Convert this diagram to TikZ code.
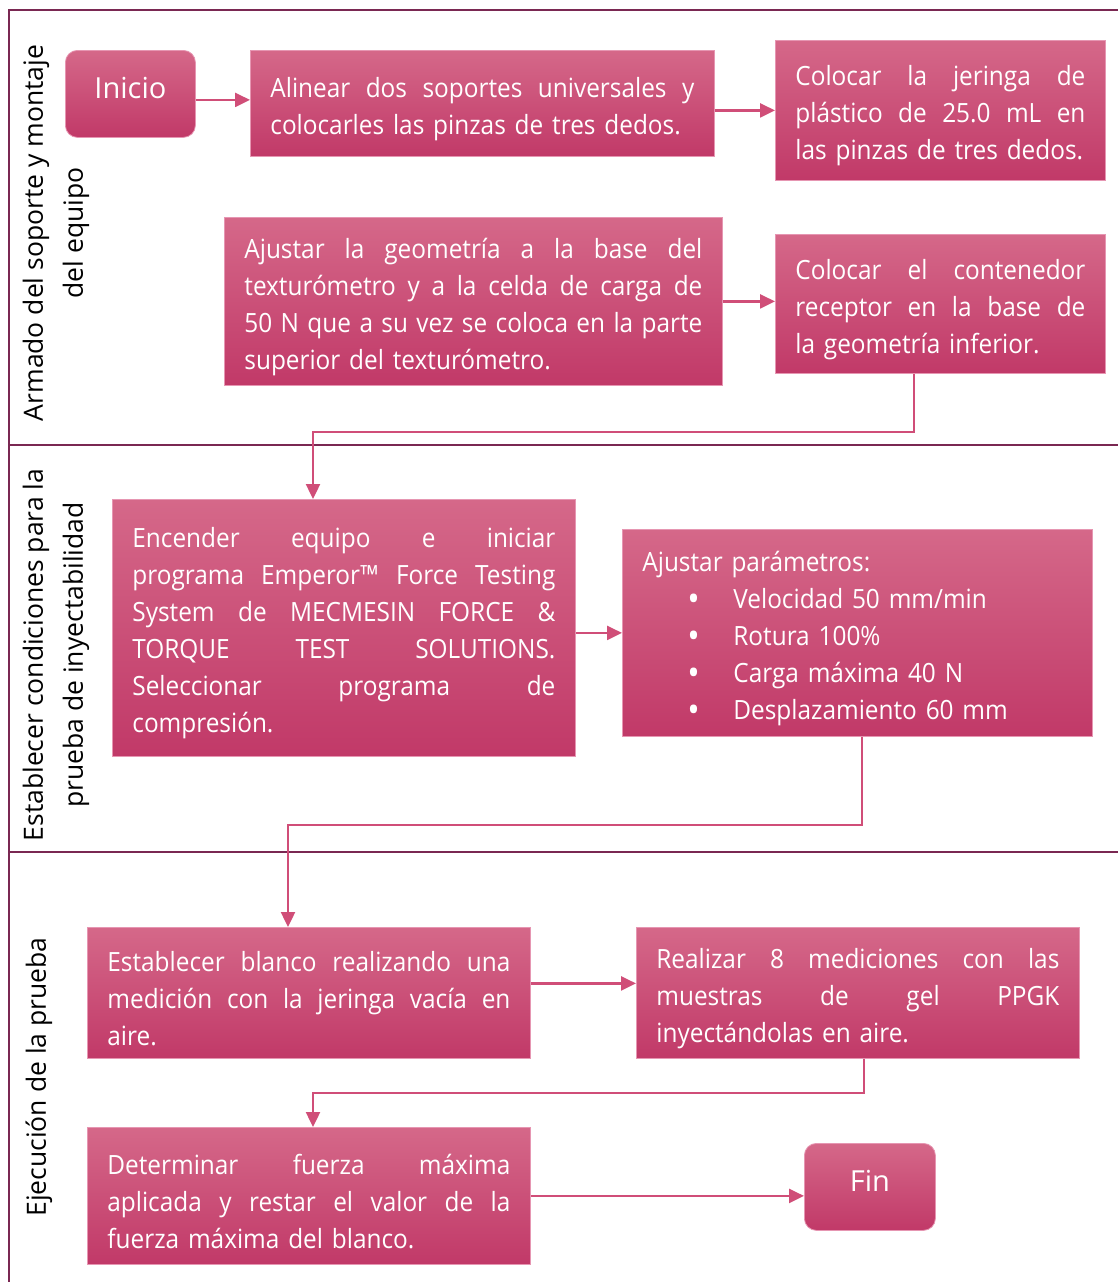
\documentclass[tikz,border=0pt]{standalone}
\usepackage{fontspec}
\setmainfont{Open Sans}[FakeStretch=0.92]
\newfontfamily\lanefont{Open Sans}
\usetikzlibrary{arrows.meta}

\definecolor{boxtop}{RGB}{213,104,137}
\definecolor{boxmid}{RGB}{206,72,116}
\definecolor{boxbot}{RGB}{193,57,104}
\definecolor{boxedge}{RGB}{230,150,178}
\definecolor{flow}{RGB}{208,78,120}
\definecolor{lane}{RGB}{122,40,82}

% one line spread over the full text width
\newcommand\jline[1]{\leavevmode\hbox to \linewidth{\spaceskip=0.28em plus 1fil\relax #1}}
% a closing line at its natural width
\newcommand\nline[1]{\leavevmode\hbox{#1}}
% one bullet line of the parameter list
\newcommand\bitem[1]{\leavevmode\hbox{\hspace*{45pt}\makebox[46pt][l]{\raisebox{-3pt}{\fontsize{36pt}{37pt}\selectfont\textbullet}}#1}}

\begin{document}
\begin{tikzpicture}[x=1pt,y=-1pt,
  txt/.style={font=\fontsize{26.5pt}{37pt}\selectfont},
  boxbase/.style={txt,rectangle,draw=boxedge,line width=0.8pt,
    top color=boxtop,middle color=boxmid,bottom color=boxbot,
    text=white,inner xsep=20pt,inner ysep=0pt,anchor=north west},
  proc/.style={boxbase,align=left,execute at begin node={\rule{0pt}{31pt}}},
  term/.style={boxbase,rounded corners=12pt,text depth=12pt,
    font=\lanefont\fontsize{29pt}{37pt}\selectfont},
  flow/.style={draw=flow,line width=2.4pt,-{Triangle[length=15pt,width=14pt]}},
  lanelbl/.style={font=\lanefont\fontsize{26.5pt}{40pt}\selectfont,align=center,text=black,rotate=90},
  laneline/.style={draw=lane,line width=1.6pt}]

\useasboundingbox (0,0) rectangle (1118,1282);

% swimlane frame
\draw[lane,line width=2.6pt] (1118,10) -- (9,10) -- (9,1282);
\draw[laneline] (9,445) -- (1118,445);
\draw[laneline] (9,852) -- (1118,852);

\node[lanelbl] (lab1) at (56,233) {Armado del soporte y montaje\\del equipo};
\node[lanelbl] (lab2) at (56,655) {Establecer condiciones para la\\prueba de inyectabilidad};
\node[lanelbl] (lab3) at (39,1077) {Ejecución de la prueba};

% lane 1
\node[term,minimum width=130pt,minimum height=87pt] (inicio) at (65,50) {Inicio};
\node[proc,text width=424pt,minimum height=106pt] (alinear) at (250,50)
  {\jline{Alinear dos soportes universales y}\\\nline{colocarles las pinzas de tres dedos.}};
\node[proc,text width=290pt,minimum height=140pt] (jeringa) at (775,40)
  {\jline{Colocar la jeringa de}\\\jline{plástico de 25.0 mL en}\\\nline{las pinzas de tres dedos.}};
\node[proc,text width=458pt,minimum height=168pt] (geom) at (224,217)
  {\jline{Ajustar la geometría a la base del}\\\jline{texturómetro y a la celda de carga de}\\\jline{50 N que a su vez se coloca en la parte}\\\nline{superior del texturómetro.}};
\node[proc,text width=290pt,minimum height=139pt] (recep) at (775,234)
  {\jline{Colocar el contenedor}\\\jline{receptor en la base de}\\\nline{la geometría inferior.}};

% lane 2
\node[proc,text width=423pt,minimum height=257pt] (encender) at (112,499)
  {\jline{Encender equipo e iniciar}\\\jline{programa Emperor™ Force Testing}\\\jline{System de MECMESIN FORCE \&}\\\jline{TORQUE TEST SOLUTIONS.}\\\jline{Seleccionar programa de}\\\nline{compresión.}};
\node[proc,text width=430pt,minimum height=207pt] (param) at (622,529)
  {\nline{Ajustar parámetros:}\\\bitem{Velocidad 50 mm/min}\\\bitem{Rotura 100\%}\\\bitem{Carga máxima 40 N}\\\bitem{Desplazamiento 60 mm}};

% lane 3
\node[proc,text width=403pt,minimum height=131pt] (blanco) at (87,927)
  {\jline{Establecer blanco realizando una}\\\jline{medición con la jeringa vacía en}\\\nline{aire.}};
\node[proc,text width=403pt,minimum height=131pt] (medir) at (636,927)
  {\jline{Realizar 8 mediciones con las}\\\jline{muestras de gel PPGK}\\\nline{inyectándolas en aire.}};
\node[proc,text width=403pt,minimum height=137pt] (fuerza) at (87,1127)
  {\jline{Determinar fuerza máxima}\\\jline{aplicada y restar el valor de la}\\\nline{fuerza máxima del blanco.}};
\node[term,minimum width=131pt,minimum height=87pt] (fin) at (804,1143) {Fin};

% elbow turning points
\coordinate (k1a) at (914,432);
\coordinate (k1b) at (313,432);
\coordinate (k2a) at (862,825);
\coordinate (k2b) at (288,825);
\coordinate (k3a) at (864,1093);
\coordinate (k3b) at (313,1093);

% connectors
\draw[flow] ([yshift=-6pt]inicio.east) -- ([yshift=-6pt]alinear.west |- inicio.east);
\draw[flow] (alinear.east |- jeringa.west) -- (jeringa.west);
\draw[flow] (geom.east) -- (recep.west |- geom.east);
\draw[flow] (recep.south -| k1a) -- (k1a) -- (k1b) -- (encender.north -| k1b);
\draw[flow] (encender.east |- param.west) -- (param.west);
\draw[flow] (param.south -| k2a) -- (k2a) -- (k2b) -- (blanco.north -| k2b);
\draw[flow] ([yshift=9.5pt]blanco.east) -- ([yshift=9.5pt]medir.west |- blanco.east);
\draw[flow] (medir.south -| k3a) -- (k3a) -- (k3b) -- (fuerza.north -| k3b);
\draw[flow] (fuerza.east) -- (fin.west |- fuerza.east);
\end{tikzpicture}
\end{document}
